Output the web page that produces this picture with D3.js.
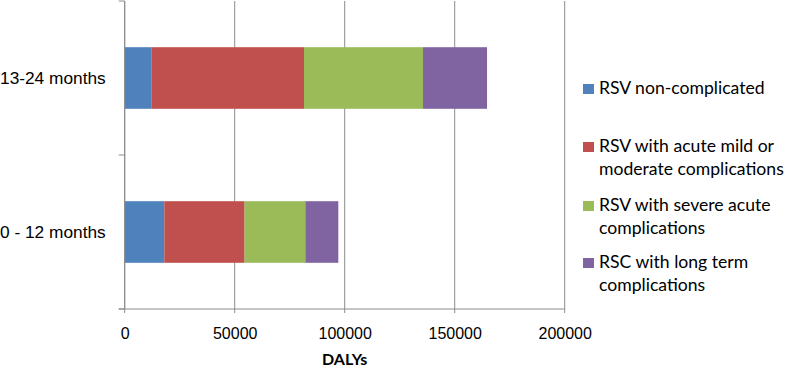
<!DOCTYPE html>
<html>
<head>
<meta charset="utf-8">
<script src="https://cdn.jsdelivr.net/npm/d3@7"></script>
<style>
  body { margin: 0; background: #fff; }
  svg { display: block; font-family: Lato, "Open Sans", sans-serif; }
  .tick text { fill: #000; }
</style>
</head>
<body>
<div class="svg"></div>
<script>
const w = 787;
const h = 369;

// data
const ageGroups = ["13-24 months", "0 - 12 months"];
const seriesNames = ["RSV non-complicated", "RSV with acute mild or moderate complications",
  "RSV with severe acute complications", "RSC with long term complications"];
const nonComplicated = [12300, 18000];
const acuteMildModerate = [69200, 36500];
const severeAcute = [54100, 27600];
const longTerm = [29100, 15000];
const xTicks = [0, 50000, 100000, 150000, 200000];
const legendLines = [["RSV non-complicated"], ["RSV with acute mild or", "moderate complications"],
  ["RSV with severe acute", "complications"], ["RSC with long term", "complications"]];

const colors = ["#4f81bd", "#c0504d", "#9bbb59", "#8064a2"];
const gridColor = "#8c8c8c";

const rows = ageGroups.map((g, i) => ({
  group: g,
  [seriesNames[0]]: nonComplicated[i],
  [seriesNames[1]]: acuteMildModerate[i],
  [seriesNames[2]]: severeAcute[i],
  [seriesNames[3]]: longTerm[i]
}));

const svg = d3.select('.svg')
  .append('svg')
  .attr("width", w)
  .attr("height", h);

const plotLeft = 124.7, plotRight = 564.7, plotTop = 1, plotBottom = 309;

const xScale = d3.scaleLinear()
  .domain([0, 200000])
  .range([plotLeft, plotRight]);

const yScale = d3.scaleBand()
  .domain(ageGroups)
  .range([plotTop, plotBottom])
  .paddingInner(0.6)
  .paddingOuter(0.3);

// vertical gridlines
svg.append("g")
  .selectAll("line")
  .data(xTicks)
  .enter()
  .append("line")
  .attr("x1", d => xScale(d))
  .attr("x2", d => xScale(d))
  .attr("y1", plotTop)
  .attr("y2", plotBottom + 4)
  .attr("stroke", gridColor)
  .attr("stroke-width", 1);

// stacked bars
const stacked = d3.stack().keys(seriesNames)(rows);
svg.append("g")
  .selectAll("g")
  .data(stacked)
  .enter()
  .append("g")
  .attr("fill", (d, i) => colors[i])
  .selectAll("rect")
  .data(d => d)
  .enter()
  .append("rect")
  .attr("x", d => xScale(d[0]))
  .attr("y", d => yScale(d.data.group))
  .attr("width", d => xScale(d[1]) - xScale(d[0]))
  .attr("height", yScale.bandwidth());

// x axis
const xAxis = d3.axisBottom(xScale)
  .tickValues(xTicks)
  .tickFormat(d3.format("d"))
  .tickSize(0)
  .tickPadding(19);
const gx = svg.append("g")
  .attr("transform", "translate(0," + plotBottom + ")")
  .call(xAxis);
gx.select(".domain").remove();
gx.selectAll("text").style("font-size", "16px");

svg.append("line")
  .attr("x1", plotLeft - 6)
  .attr("x2", plotRight)
  .attr("y1", plotBottom)
  .attr("y2", plotBottom)
  .attr("stroke", gridColor);

// y axis
const yAxis = d3.axisLeft(yScale).tickSize(0).tickPadding(19);
const gy = svg.append("g")
  .attr("transform", "translate(" + plotLeft + ",0)")
  .call(yAxis);
gy.select(".domain").remove();
gy.selectAll("text").style("font-size", "17.3px");

svg.append("line")
  .attr("x1", plotLeft)
  .attr("x2", plotLeft)
  .attr("y1", plotTop)
  .attr("y2", plotBottom)
  .attr("stroke", gridColor);

const boundaries = d3.range(ageGroups.length + 1).map(i => plotTop + i * yScale.step());
svg.append("g")
  .selectAll("line")
  .data(boundaries)
  .enter()
  .append("line")
  .attr("x1", plotLeft - 6)
  .attr("x2", plotLeft)
  .attr("y1", d => d)
  .attr("y2", d => d)
  .attr("stroke", gridColor);

// axis title
svg.append("text")
  .attr("x", (plotLeft + plotRight) / 2)
  .attr("y", 365)
  .attr("text-anchor", "middle")
  .style("font-size", "16px")
  .style("font-weight", "bold")
  .text("DALYs");

// legend
const legendY = [94, 152, 211, 268];
const legend = svg.append("g")
  .selectAll("g")
  .data(legendLines)
  .enter()
  .append("g")
  .attr("transform", (d, i) => "translate(583," + legendY[i] + ")");

legend.append("rect")
  .attr("x", 0)
  .attr("y", -10)
  .attr("width", 11)
  .attr("height", 10)
  .attr("fill", (d, i) => colors[i]);

legend.append("text")
  .style("font-size", "17.6px")
  .selectAll("tspan")
  .data(d => d)
  .enter()
  .append("tspan")
  .attr("x", 16)
  .attr("y", (d, i) => i * 22.5)
  .text(d => d);
</script>
</body>
</html>
